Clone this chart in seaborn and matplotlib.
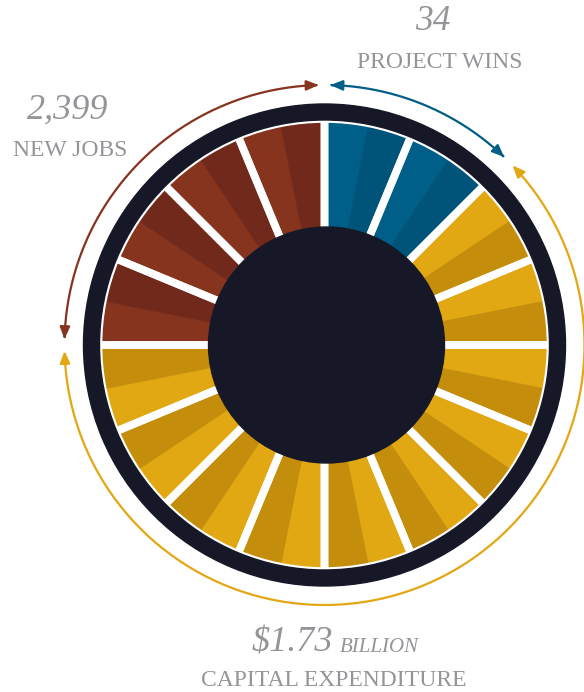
import matplotlib
matplotlib.use("Agg")
import matplotlib.pyplot as plt
import seaborn as sns
import numpy as np
from matplotlib.patches import Wedge, Circle, FancyArrowPatch
from matplotlib.path import Path

sns.set_theme(style="white")
plt.rcParams['font.family'] = ['Liberation Serif', 'DejaVu Serif']

# --- data: the three groups, clockwise from 12 o'clock ---
group_names = ["PROJECT WINS", "CAPITAL EXPENDITURE", "NEW JOBS"]
group_values = ["34", "$1.73", "2,399"]
blue_segments = [1, 1, 1, 1]
gold_segments = [1, 1, 1, 1, 1, 1, 1, 1, 1, 1,
                 1, 1, 1, 1, 1, 1, 1, 1, 1, 1]
red_segments = [1, 1, 1, 1, 1, 1, 1, 1]
group_colors = ["#005E87", "#E2A713", "#86331F"]
light_dark = {
    "#005E87": ["#005F88", "#00547A"],
    "#E2A713": ["#E2A813", "#C48E0C"],
    "#86331F": ["#87341F", "#71291B"],
}
DARK = "#161827"
GREY = "#939598"

W, H = 584, 692
cx, cy = 324.5, H - 345

fig = plt.figure(figsize=(W / 100, H / 100), dpi=100)
ax = fig.add_axes([0, 0, 1, 1])

segments = [blue_segments, gold_segments, red_segments]
values, colors = [], []
for segs, gc in zip(segments, group_colors):
    for i, v in enumerate(segs):
        values.append(v)
        colors.append(light_dark[gc][i % 2])

# sub wedges (light / dark)
wedges, _ = ax.pie(values, radius=226, center=(cx, cy), startangle=90,
                   counterclock=False, colors=colors,
                   wedgeprops=dict(width=226 - 112, linewidth=0.6))
for w in wedges:
    w.set_edgecolor(w.get_facecolor())

# white separators between pairs
pair_values = [a + b for segs in segments for a, b in zip(segs[0::2], segs[1::2])]
ax.pie(pair_values, radius=226, center=(cx, cy), startangle=90,
       counterclock=False,
       wedgeprops=dict(width=226 - 112, fill=False, edgecolor="white", linewidth=5.5))

# dark outer ring and centre disc
ax.add_patch(Wedge((cx, cy), 241, 0, 360, width=241 - 225, color=DARK, zorder=5))
ax.add_patch(Circle((cx + 2, cy), 118, color=DARK, zorder=5))

# outer arcs with arrows at both ends
total = sum(values)
bounds = np.cumsum([0] + [sum(s) for s in segments]) / total * 360
r_arc, gap = 260, 1.3
for k, gc in enumerate(group_colors):
    th = np.radians(np.linspace(bounds[k] + gap, bounds[k + 1] - gap, 200))
    verts = np.column_stack([cx + r_arc * np.sin(th), cy + r_arc * np.cos(th)])
    arr = FancyArrowPatch(path=Path(verts),
                          arrowstyle="<|-|>,head_length=1.2,head_width=0.5",
                          mutation_scale=6, color=gc, lw=1.6, zorder=4)
    ax.add_patch(arr)

# labels
ax.text(433, H - 21, group_values[0], ha="center", va="center",
        fontsize=25.5, style="italic", color=GREY)
ax.text(440, H - 62, group_names[0], ha="center", va="center",
        fontsize=17, color=GREY)
ax.text(68, H - 110, group_values[2], ha="center", va="center",
        fontsize=26, style="italic", color=GREY)
ax.text(70, H - 151, group_names[2], ha="center", va="center",
        fontsize=17, color=GREY)
ax.text(333, H - 652, group_values[1], ha="right", va="baseline",
        fontsize=26, style="italic", color=GREY)
ax.text(340, H - 652, "BILLION", ha="left", va="baseline",
        fontsize=15, style="italic", color=GREY)
ax.text(334, H - 680, group_names[1], ha="center", va="center",
        fontsize=17, color=GREY)

ax.set_xlim(0, W)
ax.set_ylim(0, H)
ax.set_aspect("equal")
ax.axis("off")
fig.savefig("out.png", dpi=100, facecolor="white")
